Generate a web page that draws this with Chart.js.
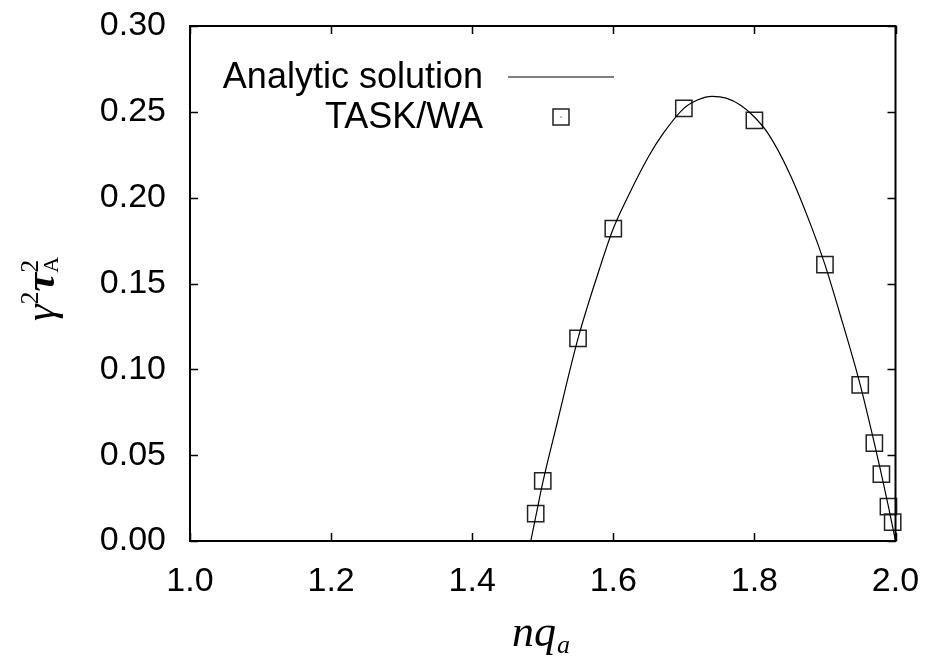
<!DOCTYPE html>
<html>
<head>
<meta charset="utf-8">
<script src="https://cdn.jsdelivr.net/npm/chart.js@4"></script>
<style>
  body { margin: 0; background: #fff; }
</style>
</head>
<body>
<canvas id="growthChart" width="925" height="658"></canvas>
<script>
// 解析解曲线
const curveX = [1.483, 1.49, 1.50, 1.52, 1.55, 1.58, 1.60, 1.62, 1.65, 1.67, 1.70, 1.72, 1.74, 1.76, 1.78, 1.80, 1.82, 1.85, 1.88, 1.90, 1.92, 1.95, 1.97, 1.98, 1.99, 2.00];
const curveY = [0.000, 0.014, 0.034, 0.068, 0.118, 0.158, 0.182, 0.200, 0.224, 0.237, 0.252, 0.257, 0.259, 0.258, 0.254, 0.247, 0.237, 0.214, 0.184, 0.161, 0.134, 0.091, 0.057, 0.039, 0.020, 0.000];

// TASK/WA 数值结果
const taskX = [1.49, 1.50, 1.55, 1.60, 1.70, 1.80, 1.90, 1.95, 1.97, 1.98, 1.99, 1.996];
const taskY = [0.016, 0.035, 0.118, 0.182, 0.252, 0.245, 0.161, 0.091, 0.057, 0.039, 0.020, 0.011];

const xTicks = [1.0, 1.2, 1.4, 1.6, 1.8, 2.0];
const yTicks = [0.00, 0.05, 0.10, 0.15, 0.20, 0.25, 0.30];

const tickFont = { family: "'Liberation Sans', Arial, sans-serif", size: 34 };

// 边框、内向刻度、图例和坐标轴标题
const decorPlugin = {
    id: 'decor',
    afterDraw(chart) {
        const ctx = chart.ctx;
        const area = chart.chartArea;
        const xs = chart.scales.x;
        const ys = chart.scales.y;
        ctx.save();

        ctx.strokeStyle = '#000';
        ctx.lineWidth = 1.5;
        xTicks.forEach(v => {
            const px = Math.round(xs.getPixelForValue(v)) + 0.5;
            ctx.beginPath();
            ctx.moveTo(px, area.bottom); ctx.lineTo(px, area.bottom - 8);
            ctx.moveTo(px, area.top); ctx.lineTo(px, area.top + 8);
            ctx.stroke();
        });
        yTicks.forEach(v => {
            const py = Math.round(ys.getPixelForValue(v)) + 0.5;
            ctx.beginPath();
            ctx.moveTo(area.left, py); ctx.lineTo(area.left + 8, py);
            ctx.moveTo(area.right, py); ctx.lineTo(area.right - 8, py);
            ctx.stroke();
        });

        ctx.lineWidth = 2;
        ctx.strokeRect(area.left, area.top, area.right - area.left, area.bottom - area.top);

        // 图例
        ctx.fillStyle = '#000';
        ctx.font = "36px 'Liberation Sans', Arial, sans-serif";
        ctx.textAlign = 'right';
        ctx.textBaseline = 'alphabetic';
        ctx.fillText('Analytic solution', 483, 88);
        ctx.fillText('TASK/WA', 483, 128);
        ctx.lineWidth = 1.2;
        ctx.beginPath();
        ctx.moveTo(508, 77); ctx.lineTo(614, 77);
        ctx.stroke();
        ctx.lineWidth = 1.5;
        ctx.strokeStyle = '#222';
        ctx.strokeRect(553, 109, 16, 16);
        ctx.fillRect(560.5, 116.5, 1, 1);

        // x 轴标题
        ctx.textAlign = 'left';
        ctx.font = "italic 44px 'Liberation Serif', 'Times New Roman', serif";
        ctx.fillText('nq', 512, 646);
        const w = ctx.measureText('nq').width;
        ctx.font = "italic 26px 'Liberation Serif', 'Times New Roman', serif";
        ctx.fillText('a', 512 + w + 1, 653);

        // y 轴标题
        ctx.translate(54, 321);
        ctx.rotate(-Math.PI / 2);
        let x = 0;
        ctx.font = "italic 42px 'Liberation Serif', 'Times New Roman', serif";
        ctx.fillText('γ', x, 0);
        x += ctx.measureText('γ').width;
        ctx.font = "26px 'Liberation Serif', 'Times New Roman', serif";
        ctx.fillText('2', x, -16);
        x += ctx.measureText('2').width;
        ctx.font = "italic bold 42px 'Liberation Serif', 'Times New Roman', serif";
        ctx.fillText('τ', x, 0);
        x += ctx.measureText('τ').width;
        ctx.font = "26px 'Liberation Serif', 'Times New Roman', serif";
        ctx.fillText('2', x, -16);
        ctx.font = "22px 'Liberation Serif', 'Times New Roman', serif";
        ctx.fillText('A', x, 4);

        ctx.restore();
    }
};

const ctx = document.getElementById('growthChart').getContext('2d');
new Chart(ctx, {
    type: 'scatter',
    data: {
        datasets: [{
            label: 'Analytic solution',
            data: curveX.map((x, i) => ({ x: x, y: curveY[i] })),
            showLine: true,
            borderColor: '#000',
            borderWidth: 1.2,
            pointRadius: 0,
            cubicInterpolationMode: 'monotone'
        }, {
            label: 'TASK/WA',
            data: taskX.map((x, i) => ({ x: x, y: taskY[i] })),
            pointStyle: 'rect',
            pointRadius: 11.5,
            borderColor: '#222',
            borderWidth: 1.5,
            backgroundColor: 'rgba(0,0,0,0)',
            clip: false
        }]
    },
    options: {
        responsive: false,
        animation: false,
        layout: { padding: { top: 26, right: 29.5, left: 0, bottom: 0 } },
        plugins: {
            legend: { display: false },
            tooltip: { enabled: false }
        },
        scales: {
            x: {
                type: 'linear',
                min: 1.0,
                max: 2.0,
                afterFit: s => { s.height = 117; s.paddingLeft = 0; s.paddingRight = 0; },
                afterBuildTicks: s => { s.ticks = xTicks.map(v => ({ value: v })); },
                grid: { display: false, drawTicks: false },
                border: { display: false },
                ticks: {
                    color: '#000',
                    font: tickFont,
                    padding: 20,
                    maxRotation: 0,
                    callback: v => v.toFixed(1)
                }
            },
            y: {
                min: 0,
                max: 0.30,
                afterFit: s => { s.width = 190; s.paddingTop = 0; s.paddingBottom = 0; },
                afterBuildTicks: s => { s.ticks = yTicks.map(v => ({ value: v })); },
                grid: { display: false, drawTicks: false },
                border: { display: false },
                ticks: {
                    color: '#000',
                    font: tickFont,
                    padding: 24,
                    callback: v => v.toFixed(2)
                }
            }
        }
    },
    plugins: [decorPlugin]
});
</script>
</body>
</html>
